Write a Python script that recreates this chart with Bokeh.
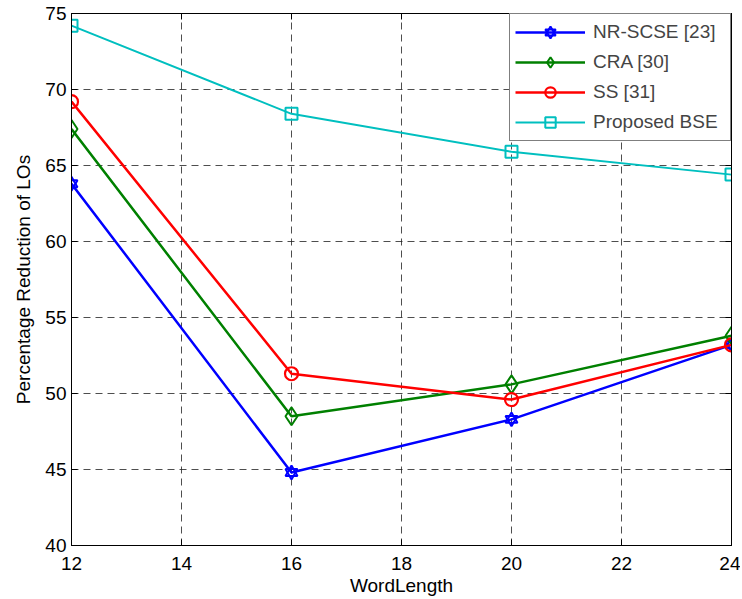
from bokeh.plotting import figure
from bokeh.models import LinearAxis, Legend, LegendItem, FixedTicker, Range1d
from bokeh.embed import file_html
from bokeh.resources import INLINE

word_length = [12, 16, 20, 24]
nr_scse = [63.8, 44.8, 48.3, 53.2]
cra = [67.4, 48.5, 50.6, 53.8]
ss = [69.2, 51.3, 49.6, 53.2]
proposed = [74.2, 68.4, 65.9, 64.4]
x_ticks = [12, 14, 16, 18, 20, 22, 24]
y_ticks = [40, 45, 50, 55, 60, 65, 70, 75]

FONT = "Liberation Sans"
FS = "19px"

p = figure(width=740, height=598, output_backend="svg", toolbar_location=None,
           x_range=Range1d(12, 24), y_range=Range1d(40, 75),
           min_border_left=71, min_border_right=9, min_border_top=13, min_border_bottom=53)
p.outline_line_color = "black"
p.outline_line_width = 1

for ax in (p.xaxis[0], p.yaxis[0]):
    ax.major_tick_in = 6
    ax.major_tick_out = 0
    ax.minor_tick_line_color = None
    ax.axis_line_color = "black"
    ax.major_tick_line_color = "black"
    ax.major_label_text_font = FONT
    ax.major_label_text_font_size = FS
    ax.major_label_text_color = "black"
    ax.axis_label_text_font = FONT
    ax.axis_label_text_font_size = FS
    ax.axis_label_text_font_style = "normal"
    ax.axis_label_text_color = "black"

p.xaxis[0].ticker = FixedTicker(ticks=x_ticks)
p.yaxis[0].ticker = FixedTicker(ticks=y_ticks)
p.xaxis[0].axis_label = "WordLength"
p.yaxis[0].axis_label = "Percentage Reduction of LOs"
p.xaxis[0].major_label_standoff = 11
p.xaxis[0].axis_label_standoff = 2
p.yaxis[0].major_label_standoff = 5
p.yaxis[0].axis_label_standoff = 8

top = LinearAxis(ticker=FixedTicker(ticks=x_ticks),
                 major_label_overrides={t: "" for t in x_ticks},
                 major_tick_in=6, major_tick_out=0, minor_tick_line_color=None,
                 major_label_standoff=0)
right = LinearAxis(ticker=FixedTicker(ticks=y_ticks),
                   major_label_overrides={t: "" for t in y_ticks},
                   major_tick_in=6, major_tick_out=0, minor_tick_line_color=None,
                   major_label_standoff=0)
p.add_layout(top, "above")
p.add_layout(right, "right")

for g in (p.xgrid[0], p.ygrid[0]):
    g.grid_line_color = "#222222"
    g.grid_line_dash = "7 5"
    g.grid_line_width = 1
    g.grid_line_alpha = 0.8
p.xgrid[0].ticker = FixedTicker(ticks=x_ticks)
p.ygrid[0].ticker = FixedTicker(ticks=y_ticks)

items = []
# NR-SCSE (blue, hexagram)
l1 = p.line(word_length, nr_scse, line_color="#0000ff", line_width=2.5)
m1a = p.scatter(word_length, nr_scse, marker="triangle", size=12, line_color="#0000ff",
                fill_color=None, line_width=2)
m1b = p.scatter(word_length, nr_scse, marker="inverted_triangle", size=12, line_color="#0000ff",
                fill_color=None, line_width=2)
items.append(LegendItem(label="NR-SCSE [23]", renderers=[l1, m1a, m1b]))
# CRA
l2 = p.line(word_length, cra, line_color="#008000", line_width=2.5)
m2 = p.scatter(word_length, cra, marker="diamond", size=18, line_color="#008000",
               fill_color=None, line_width=2)
items.append(LegendItem(label="CRA [30]", renderers=[l2, m2]))
# SS
l3 = p.line(word_length, ss, line_color="#ff0000", line_width=2.5)
m3 = p.scatter(word_length, ss, marker="circle", size=13, line_color="#ff0000",
               fill_color=None, line_width=2.2)
items.append(LegendItem(label="SS [31]", renderers=[l3, m3]))
# Proposed
l4 = p.line(word_length, proposed, line_color="#00bfbf", line_width=2)
m4 = p.scatter(word_length, proposed, marker="square", size=12, line_color="#00bfbf",
               fill_color=None, line_width=2)
items.append(LegendItem(label="Proposed BSE", renderers=[l4, m4]))

legend = Legend(items=items, location="top_right", margin=0,
                label_text_font=FONT, label_text_font_size=FS,
                border_line_color="black", border_line_width=1,
                background_fill_color="white", background_fill_alpha=1,
                glyph_width=70, label_standoff=8, label_width=132, padding=5, spacing=4,
                label_height=26, glyph_height=26)
p.add_layout(legend, "center")

open("out.html", "w").write(file_html(p, INLINE))
